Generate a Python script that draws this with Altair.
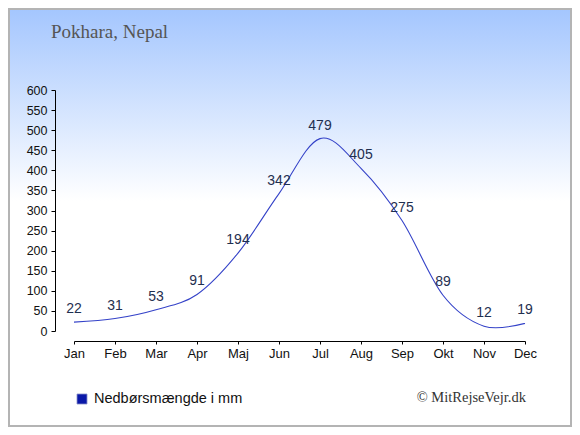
import altair as alt
import pandas as pd

months = ["Jan", "Feb", "Mar", "Apr", "Maj", "Jun", "Jul", "Aug", "Sep", "Okt", "Nov", "Dec"]
rain = [22, 31, 53, 91, 194, 342, 479, 405, 275, 89, 12, 19]
series_name = "Nedbørsmængde i mm"
title_text = "Pokhara, Nepal"
credit_text = "© MitRejseVejr.dk"
y_ticks = list(range(0, 601, 50))

df = pd.DataFrame({"month": months, "value": rain})
one = pd.DataFrame({"k": [0]})

W, H = 451, 241
PAD_L, PAD_T = 66, 82
TOTAL_W, TOTAL_H = 564, 419

x_enc = alt.X("month:N", sort=months,
              scale=alt.Scale(type="point", padding=0),
              axis=alt.Axis(title=None, offset=10, tickSize=3, labelPadding=3,
                            labelFontSize=13, labelAngle=0, labelOverlap=False,
                            domainColor="#000", tickColor="#000", labelColor="#111",
                            grid=False, labelFont="Arial", zindex=2))
y_enc = alt.Y("value:Q", scale=alt.Scale(domain=[0, 600], nice=False),
              axis=alt.Axis(title=None, offset=19, values=y_ticks, tickSize=4,
                            labelPadding=4, labelFontSize=12.5, labelOverlap=False,
                            domainColor="#000", tickColor="#000", labelColor="#111",
                            grid=False, labelFont="Arial", zindex=2))

bg = alt.Chart(one).mark_rect(
    fill=alt.Gradient(gradient="linear", x1=0, y1=0, x2=0, y2=1,
                      stops=[alt.GradientStop(offset=0, color="#a4c6fe"),
                             alt.GradientStop(offset=0.46, color="#ffffff"),
                             alt.GradientStop(offset=1, color="#ffffff")]),
    stroke="#b4b4b4", strokeWidth=2
).encode(x=alt.value(-PAD_L + 1), x2=alt.value(TOTAL_W - PAD_L - 1),
         y=alt.value(-PAD_T + 1), y2=alt.value(TOTAL_H - PAD_T - 1))

line = alt.Chart(df).mark_line(interpolate="cardinal", color="#3442c8",
                               strokeWidth=1.1).encode(x=x_enc, y=y_enc)

labels = alt.Chart(df).mark_text(dy=-13, fontSize=14, color="#1f2f50",
                                 font="Arial").encode(
    x=x_enc, y=y_enc, text="value:Q")

title = alt.Chart(one).mark_text(text=title_text, align="left", baseline="alphabetic",
                                 font="Liberation Serif", fontSize=19, color="#555555"
                                 ).encode(x=alt.value(-23), y=alt.value(-52))

legend_sq = alt.Chart(one).mark_square(size=100, filled=True, color="#0a18a8",
                                       opacity=1, stroke="#8890c8", strokeWidth=0.8
                                       ).encode(x=alt.value(8), y=alt.value(309))
legend_tx = alt.Chart(one).mark_text(text=series_name, align="left", baseline="alphabetic",
                                     font="Arial", fontSize=14.5, color="#111111"
                                     ).encode(x=alt.value(20), y=alt.value(313))

credit = alt.Chart(one).mark_text(text=credit_text, align="right", baseline="alphabetic",
                                  font="Liberation Serif", fontSize=14.5, color="#333333"
                                  ).encode(x=alt.value(452), y=alt.value(312))

chart = alt.layer(bg, line, labels, title, legend_sq, legend_tx, credit).properties(
    width=W, height=H,
    autosize=alt.AutoSizeParams(type="none"),
    padding={"left": PAD_L, "top": PAD_T, "right": TOTAL_W - PAD_L - W,
             "bottom": TOTAL_H - PAD_T - H},
).configure_view(stroke=None)

chart.save("out.html", embed_options={"renderer": "svg", "actions": False})
